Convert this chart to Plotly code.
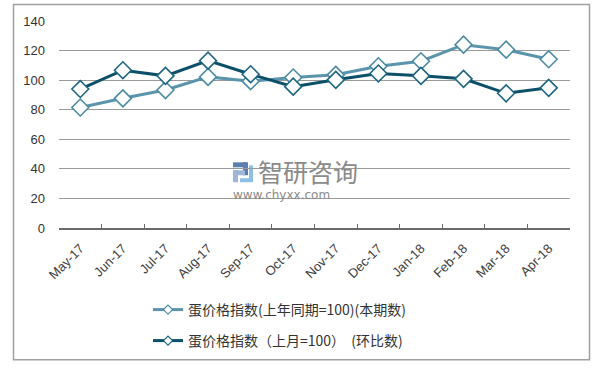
import plotly.graph_objects as go

months = ["May-17", "Jun-17", "Jul-17", "Aug-17", "Sep-17", "Oct-17",
          "Nov-17", "Dec-17", "Jan-18", "Feb-18", "Mar-18", "Apr-18"]
yoy_index = [81.5, 87.7, 93.3, 102.2, 99.3, 101.8, 103.6, 109.4, 112.8, 124.0, 120.6, 114.1]
mom_index = [94.0, 106.7, 102.9, 113.2, 104.0, 95.6, 100.2, 104.5, 102.9, 100.9, 91.1, 94.8]
name_yoy = "蛋价格指数(上年同期=100)(本期数)"
name_mom = "蛋价格指数（上月=100）  (环比数)"
y_ticks = [0, 20, 40, 60, 80, 100, 120, 140]

W, H = 599, 368
ML, MR, MT, MB = 59, 29, 21, 139
PW, PH = W - ML - MR, H - MT - MB

def px_x(p):
    return (p - ML) / PW

def px_y(p):
    return (H - MB - p) / PH

light = "#5b95ac"
dark = "#0b4f68"
light_mk = "#4a8ba3"
dark_mk = "#1d6580"
font_cjk = "Noto Sans CJK SC, Noto Sans, sans-serif"

fig = go.Figure()
fig.add_trace(go.Scatter(
    x=months, y=yoy_index, name=name_yoy, mode="lines+markers",
    line=dict(color=light, width=3),
    marker=dict(symbol="diamond", size=13, color="white",
                line=dict(color=light_mk, width=1.6)),
    showlegend=False,
))
fig.add_trace(go.Scatter(
    x=months, y=mom_index, name=name_mom, mode="lines+markers",
    line=dict(color=dark, width=3),
    marker=dict(symbol="diamond", size=13, color="white",
                line=dict(color=dark_mk, width=1.6)),
    showlegend=False,
))
# legend entries with smaller markers (no data drawn)
fig.add_trace(go.Scatter(
    x=[None], y=[None], name=name_yoy, mode="lines+markers",
    line=dict(color=light, width=3),
    marker=dict(symbol="diamond", size=7, color="white",
                line=dict(color=light_mk, width=1.2)),
    legend="legend",
))
fig.add_trace(go.Scatter(
    x=[None], y=[None], name=name_mom, mode="lines+markers",
    line=dict(color=dark, width=3),
    marker=dict(symbol="diamond", size=7, color="white",
                line=dict(color=dark_mk, width=1.2)),
    legend="legend2",
))

# watermark
fig.add_annotation(text="智研咨询", xref="paper", yref="paper",
                   x=px_x(256), y=px_y(172), xanchor="left", yanchor="middle",
                   showarrow=False, font=dict(family=font_cjk, size=25, color="#8a8a8a"))
fig.add_annotation(text="www.chyxx.com", xref="paper", yref="paper",
                   x=px_x(231), y=px_y(196), xanchor="left", yanchor="middle",
                   showarrow=False, font=dict(family="DejaVu Sans, sans-serif", size=12, color="#8a8a8a"))
# watermark logo blocks
for (x0, y0, x1, y1, c) in [(233, 163, 247, 168, "#5d7fb0"), (243, 163, 248, 176, "#5d7fb0"),
                            (233, 171, 245, 176, "#9fb6d8"), (233, 171, 238, 183, "#9fb6d8"),
                            (240, 179, 253, 183, "#8ec0e6"), (249, 166, 253, 181, "#8ec0e6")]:
    fig.add_shape(type="rect", xref="paper", yref="paper",
                  x0=px_x(x0), x1=px_x(x1), y0=px_y(y0), y1=px_y(y1),
                  line=dict(width=0), fillcolor=c, layer="below")

# outer border
fig.add_shape(type="rect", xref="paper", yref="paper",
              x0=px_x(13.5), x1=px_x(589.5), y0=px_y(361.5), y1=px_y(4.5),
              line=dict(color="#a0a0a0", width=1.5), fillcolor="rgba(0,0,0,0)")

fig.update_layout(
    width=W, height=H,
    margin=dict(l=ML, r=MR, t=MT, b=MB),
    paper_bgcolor="white", plot_bgcolor="white",
    font=dict(family="Liberation Sans, Arial, sans-serif", color="#333333"),
    showlegend=True,
    legend=dict(x=px_x(148), y=px_y(310), xanchor="left", yanchor="middle",
                bgcolor="rgba(0,0,0,0)", font=dict(family=font_cjk, size=14, color="#333333"),
                itemwidth=30),
    legend2=dict(x=px_x(148), y=px_y(341), xanchor="left", yanchor="middle",
                 bgcolor="rgba(0,0,0,0)", font=dict(family=font_cjk, size=14, color="#333333"),
                 itemwidth=30),
    xaxis=dict(
        type="category", categoryorder="array", categoryarray=months,
        tickangle=-45, tickfont=dict(size=13, color="#404040"),
        showline=True, linecolor="#6a6a6a", linewidth=1.5,
        ticks="inside", ticklen=4, tickcolor="#6a6a6a", tickson="boundaries",
        showgrid=False, range=[-0.5, 11.5], fixedrange=True,
        ticklabelstandoff=6,
    ),
    yaxis=dict(
        range=[0, 140], tickvals=y_ticks, ticktext=[str(v) for v in y_ticks],
        tickfont=dict(size=13, color="#333333"),
        showgrid=True, gridcolor="#9a9a9a", gridwidth=1,
        zeroline=False, showline=False, ticks="", ticklabelstandoff=13,
    ),
)

fig.write_html("out.html")
